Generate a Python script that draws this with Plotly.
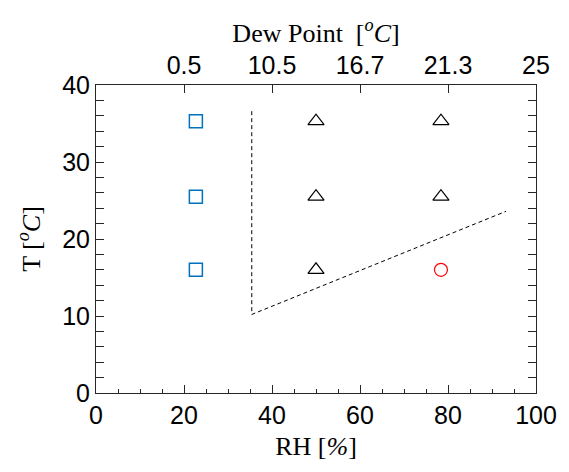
import plotly.graph_objects as go

# Data
sq_rh = [22.7, 22.7, 22.7]
sq_t = [35.3, 25.5, 16.0]
tri_rh = [50, 50, 50, 78.4, 78.4]
tri_t = [35.3, 25.5, 16.0, 35.3, 25.5]
circ_rh = [78.4]
circ_t = [16.0]
bound_rh = [35.4, 35.4, 93.2]
bound_t = [36.6, 10.2, 23.6]
dew_tickvals = [20, 40, 60, 80, 100]
dew_ticktext = ["0.5", "10.5", "16.7", "21.3", "25"]

fig = go.Figure()
fig.add_trace(go.Scatter(x=bound_rh, y=bound_t, mode="lines",
                         line=dict(color="black", width=1, dash="4px,3px"), showlegend=False))
fig.add_trace(go.Scatter(x=sq_rh, y=sq_t, mode="markers",
                         marker=dict(symbol="square-open", size=13, color="#0072BD", line=dict(width=1.5)),
                         showlegend=False))
fig.add_trace(go.Scatter(x=tri_rh, y=tri_t, mode="markers",
                         marker=dict(symbol="triangle-up-open", size=14, color="black", line=dict(width=1.2)),
                         showlegend=False))
fig.add_trace(go.Scatter(x=circ_rh, y=circ_t, mode="markers",
                         marker=dict(symbol="circle-open", size=13, color="red", line=dict(width=1.2)),
                         showlegend=False))
# invisible trace for top axis
fig.add_trace(go.Scatter(x=[0, 100], y=[0, 0], xaxis="x2", mode="markers",
                         marker=dict(opacity=0), showlegend=False, hoverinfo="skip"))

tickfont = dict(family="Liberation Sans, Arial", size=25, color="black")
titlefont = dict(family="Liberation Serif, Times New Roman", size=26, color="black")

fig.update_layout(
    width=569, height=472,
    margin=dict(l=96, r=24, t=85, b=79),
    plot_bgcolor="white", paper_bgcolor="white",
    xaxis=dict(range=[0, 100], tick0=0, dtick=20, ticks="inside", ticklen=8, tickwidth=1,
               tickcolor="#262626", showline=True, linecolor="#262626", linewidth=1, mirror=True,
               showgrid=False, zeroline=False, tickfont=tickfont,
               minor=dict(dtick=5, ticks="inside", ticklen=4, tickcolor="#262626"),
               title=dict(text="RH [<i>%</i>]", font=titlefont, standoff=8)),
    xaxis2=dict(range=[0, 100], overlaying="x", side="top", tickmode="array",
                tickvals=dew_tickvals, ticktext=dew_ticktext, ticks="inside", ticklen=8,
                tickcolor="#262626", showgrid=False, zeroline=False, showline=False, tickfont=tickfont,
                ticklabelstandoff=5,
                title=dict(text="Dew Point  [<sup><i>o</i></sup><i>C</i>]", font=titlefont, standoff=0)),
    yaxis=dict(range=[0, 40], dtick=10, ticks="inside", ticklen=8, tickcolor="#262626",
               showline=True, linecolor="#262626", linewidth=1, mirror="allticks",
               showgrid=False, zeroline=False, tickfont=tickfont,
               minor=dict(dtick=2, ticks="inside", ticklen=4, tickcolor="#262626"),
               title=dict(text="T [<sup><i>o</i></sup><i>C</i>]", font=titlefont, standoff=14)),
)

fig.write_html("out.html")
